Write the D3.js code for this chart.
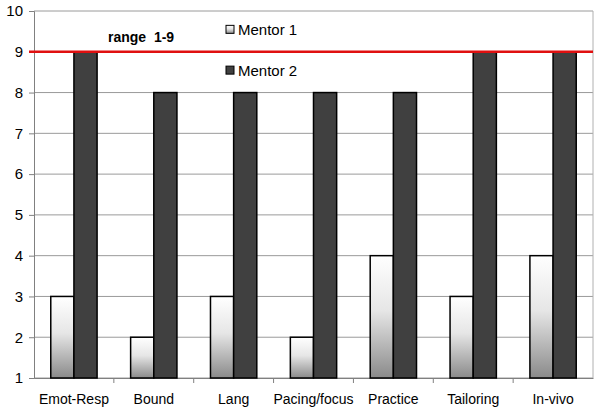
<!DOCTYPE html>
<html>
<head>
<meta charset="utf-8">
<script src="https://cdn.jsdelivr.net/npm/d3@7"></script>
<style>
  body { margin: 0; background: #fff; }
  text { font-family: "Liberation Sans", Arial, sans-serif; }
</style>
</head>
<body>
<script>
const categories = ["Emot-Resp", "Bound", "Lang", "Pacing/focus", "Practice", "Tailoring", "In-vivo"];
const mentor1 = [3, 2, 3, 2, 4, 3, 4];
const mentor2 = [9, 8, 8, 8, 8, 9, 9];
const seriesNames = ["Mentor 1", "Mentor 2"];
const yTicks = [1, 2, 3, 4, 5, 6, 7, 8, 9, 10];
const rangeValue = 9;

const width = 600, height = 412;
const margin = { top: 11, right: 7, bottom: 34, left: 34 };

const svg = d3.select("body").append("svg")
    .attr("width", width)
    .attr("height", height);

const defs = svg.append("defs");
const grad = defs.append("linearGradient")
    .attr("id", "m1grad")
    .attr("x1", 0).attr("y1", 0).attr("x2", 0).attr("y2", 1);
grad.append("stop").attr("offset", "0%").attr("stop-color", "#ffffff");
grad.append("stop").attr("offset", "45%").attr("stop-color", "#e6e6e6");
grad.append("stop").attr("offset", "100%").attr("stop-color", "#8a8a8a");

const x = d3.scaleBand()
    .domain(categories)
    .range([margin.left, width - margin.right]);

const y = d3.scaleLinear()
    .domain([1, 10])
    .range([height - margin.bottom, margin.top]);

const barW = x.bandwidth() * 0.29;

// gridlines
svg.append("g")
  .selectAll("line")
  .data(yTicks)
  .join("line")
    .attr("x1", margin.left)
    .attr("x2", width - margin.right)
    .attr("y1", d => y(d))
    .attr("y2", d => y(d))
    .attr("stroke", "#9a9a9a")
    .attr("stroke-width", 1);

// right border
svg.append("line")
    .attr("x1", width - margin.right).attr("x2", width - margin.right)
    .attr("y1", margin.top).attr("y2", height - margin.bottom)
    .attr("stroke", "#b0b0b0");

// y axis
const yAxis = svg.append("g")
    .attr("transform", `translate(${margin.left},0)`)
    .call(d3.axisLeft(y).tickValues(yTicks).tickSize(5).tickPadding(6).tickFormat(d3.format("d")));
yAxis.select(".domain").attr("stroke", "#808080");
yAxis.selectAll(".tick line").attr("stroke", "#808080");
yAxis.selectAll(".tick text")
    .attr("font-size", 15)
    .attr("fill", "#000")
    .style("font-family", "'Liberation Sans', Arial, sans-serif");

// x axis
const xAxis = svg.append("g")
    .attr("transform", `translate(0,${height - margin.bottom})`)
    .call(d3.axisBottom(x).tickSize(0).tickPadding(16));
xAxis.select(".domain").attr("stroke", "#808080");
xAxis.selectAll(".tick text")
    .attr("font-size", 14)
    .attr("fill", "#000")
    .style("font-family", "'Liberation Sans', Arial, sans-serif");
// category boundary ticks
svg.append("g")
  .selectAll("line")
  .data(categories.slice(1))
  .join("line")
    .attr("x1", d => x(d)).attr("x2", d => x(d))
    .attr("y1", height - margin.bottom)
    .attr("y2", height - margin.bottom + 5)
    .attr("stroke", "#808080");

// bars
const bars = svg.append("g");
bars.selectAll(".m1")
  .data(categories)
  .join("rect")
    .attr("class", "m1")
    .attr("x", d => x(d) + x.bandwidth() / 2 - barW)
    .attr("y", (d, i) => y(mentor1[i]))
    .attr("width", barW)
    .attr("height", (d, i) => y(1) - y(mentor1[i]))
    .attr("fill", "url(#m1grad)")
    .attr("stroke", "#000")
    .attr("stroke-width", 1.5);

bars.selectAll(".m2")
  .data(categories)
  .join("rect")
    .attr("class", "m2")
    .attr("x", d => x(d) + x.bandwidth() / 2)
    .attr("y", (d, i) => y(mentor2[i]))
    .attr("width", barW)
    .attr("height", (d, i) => y(1) - y(mentor2[i]))
    .attr("fill", "#404040")
    .attr("stroke", "#000")
    .attr("stroke-width", 1.5);

// range line
svg.append("line")
    .attr("x1", margin.left - 5)
    .attr("x2", width - margin.right)
    .attr("y1", y(rangeValue))
    .attr("y2", y(rangeValue))
    .attr("stroke", "#e01010")
    .attr("stroke-width", 2.5);

svg.append("text")
    .attr("x", 108)
    .attr("y", y(rangeValue) - 10)
    .attr("font-size", 14)
    .attr("font-weight", "bold")
    .attr("xml:space", "preserve")
    .style("white-space", "pre")
    .text("range  1-9");

// legend
const legend = svg.append("g");
const legY = [y(9.55), y(8.55)];
legend.selectAll("rect")
  .data(seriesNames)
  .join("rect")
    .attr("x", 226)
    .attr("y", (d, i) => legY[i] - 4)
    .attr("width", 8)
    .attr("height", 8)
    .attr("fill", (d, i) => i === 0 ? "url(#m1grad)" : "#404040")
    .attr("stroke", "#000")
    .attr("stroke-width", 1);
legend.selectAll("text")
  .data(seriesNames)
  .join("text")
    .attr("x", 238)
    .attr("y", (d, i) => legY[i] + 5.5)
    .attr("font-size", 15)
    .text(d => d);
</script>
</body>
</html>
